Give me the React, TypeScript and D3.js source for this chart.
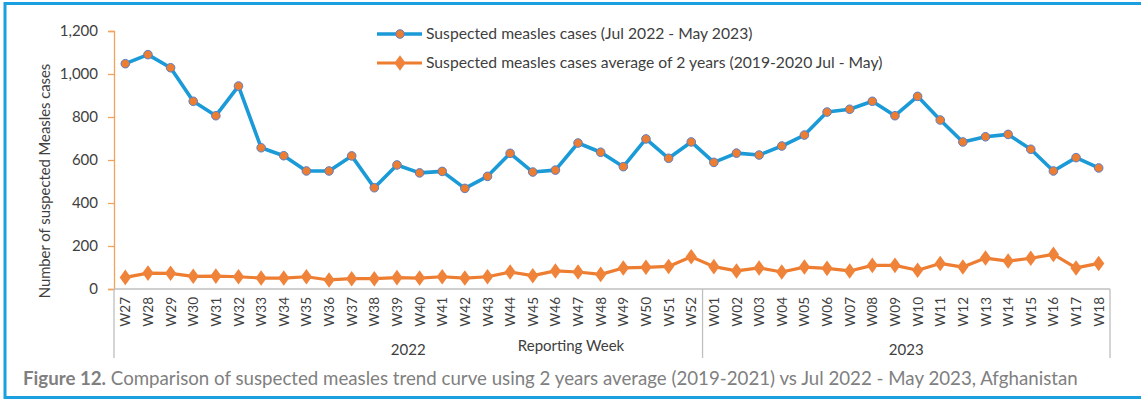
import React, { useEffect, useRef } from 'react';
import * as d3 from 'd3';

const weeks2022 = ['W27','W28','W29','W30','W31','W32','W33','W34','W35','W36','W37','W38','W39','W40','W41','W42','W43','W44','W45','W46','W47','W48','W49','W50','W51','W52'];
const weeks2023 = ['W01','W02','W03','W04','W05','W06','W07','W08','W09','W10','W11','W12','W13','W14','W15','W16','W17','W18'];

const cases2022_23 = [1048,1090,1029,873,806,944,657,620,549,549,619,471,577,540,547,468,524,631,544,553,679,636,569,698,608,684,
  589,632,623,665,716,823,836,873,806,896,786,684,708,719,650,549,611,563];
const avg2Years = [54,74,73,59,60,57,51,51,57,42,48,48,53,51,57,51,57,79,62,84,79,68,98,101,105,150,
  104,84,98,79,102,96,84,110,110,87,119,102,144,130,143,161,98,119];

const yTicks = [0, 200, 400, 600, 800, 1000, 1200];
const legendLabels = [
  'Suspected measles cases (Jul 2022 - May 2023)',
  'Suspected measles cases average of 2 years (2019-2020 Jul - May)',
];

const BLUE = '#1a9ad6';
const ORANGE = '#ed7d31';
const FONT = 'Lato, "Noto Sans", sans-serif';

export default function App() {
  const ref = useRef<SVGSVGElement>(null);

  useEffect(() => {
    const svg = d3.select(ref.current);
    svg.selectAll('*').remove();

    const W = 1141, H = 401;
    const margin = { left: 114, right: 31, top: 31, bottom: 112 };
    const weeks = weeks2022.concat(weeks2023);

    // outer frame (left, top, bottom)
    svg.append('path')
      .attr('d', `M${W},3.5 H5 V397.5 H${W}`)
      .attr('fill', 'none')
      .attr('stroke', '#1a9fe0')
      .attr('stroke-width', 3);

    const x = d3.scaleBand().domain(weeks).range([margin.left, W - margin.right]);
    const y = d3.scaleLinear().domain([0, 1200]).range([H - margin.bottom, margin.top]);
    const cx = (w: string) => (x(w) as number) + x.bandwidth() / 2;
    const y0 = y(0);

    // y axis
    const yAxis = svg.append('g')
      .attr('transform', `translate(${margin.left},0)`)
      .call(d3.axisLeft(y).tickValues(yTicks).tickSize(6).tickPadding(10).tickFormat(d3.format(',')));
    yAxis.select('.domain').attr('stroke', '#f4a25b').attr('stroke-width', 1.3);
    yAxis.selectAll('.tick line').attr('stroke', '#f4a25b').attr('stroke-width', 1.3);
    yAxis.selectAll('.tick text')
      .attr('font-family', FONT).attr('font-size', 15).attr('fill', '#404040');

    // x axis line and group lines
    svg.append('line')
      .attr('x1', margin.left).attr('x2', W - margin.right)
      .attr('y1', y0).attr('y2', y0)
      .attr('stroke', '#bfbfbf').attr('stroke-width', 1.3);
    const groupEdges = [weeks2022[0], weeks2023[0]].map(w => x(w) as number).concat([W - margin.right]);
    groupEdges.forEach(gx => {
      svg.append('line')
        .attr('x1', gx).attr('x2', gx)
        .attr('y1', y0).attr('y2', 358)
        .attr('stroke', '#bfbfbf').attr('stroke-width', 1.3);
    });

    svg.append('g').selectAll('text')
      .data(weeks)
      .enter()
      .append('text')
      .attr('transform', d => `translate(${cx(d) + 5},297) rotate(-90)`)
      .attr('text-anchor', 'end')
      .attr('font-family', FONT).attr('font-size', 13.5).attr('fill', '#404040')
      .text(d => d);

    const years = [
      { label: '2022', list: weeks2022 },
      { label: '2023', list: weeks2023 },
    ];
    years.forEach(g => {
      const mid = (cx(g.list[0]) + cx(g.list[g.list.length - 1])) / 2;
      svg.append('text')
        .attr('x', mid).attr('y', 355)
        .attr('text-anchor', 'middle')
        .attr('font-family', FONT).attr('font-size', 15).attr('fill', '#404040')
        .text(g.label);
    });

    svg.append('text')
      .attr('x', 571).attr('y', 351)
      .attr('text-anchor', 'middle')
      .attr('font-family', FONT).attr('font-size', 15).attr('fill', '#404040')
      .text('Reporting Week');

    svg.append('text')
      .attr('transform', `translate(50,181) rotate(-90)`)
      .attr('text-anchor', 'middle')
      .attr('font-family', FONT).attr('font-size', 14.8).attr('fill', '#404040')
      .text('Number of suspected Measles cases');

    // lines
    const line = d3.line<number>()
      .x((d, i) => cx(weeks[i]))
      .y(d => y(d));

    svg.append('path')
      .datum(avg2Years)
      .attr('fill', 'none')
      .attr('stroke', ORANGE)
      .attr('stroke-width', 3.2)
      .attr('stroke-linejoin', 'round')
      .attr('d', line);

    const diamond = d3.symbol().type(d3.symbolDiamond).size(70);
    svg.append('g').selectAll('path')
      .data(avg2Years)
      .enter()
      .append('path')
      .attr('transform', (d, i) => `translate(${cx(weeks[i])},${y(d)}) scale(1.25,1)`)
      .attr('d', diamond)
      .attr('fill', '#f0833a');

    svg.append('path')
      .datum(cases2022_23)
      .attr('fill', 'none')
      .attr('stroke', BLUE)
      .attr('stroke-width', 3.6)
      .attr('stroke-linejoin', 'round')
      .attr('d', line);

    svg.append('g').selectAll('circle')
      .data(cases2022_23)
      .enter()
      .append('circle')
      .attr('cx', (d, i) => cx(weeks[i]))
      .attr('cy', d => y(d))
      .attr('r', 4.3)
      .attr('fill', ORANGE)
      .attr('stroke', '#5b7fc7')
      .attr('stroke-width', 1);

    // legend
    legendLabels.forEach((label, i) => {
      const ly = 34 + i * 29;
      const g = svg.append('g');
      g.append('line')
        .attr('x1', 377).attr('x2', 422).attr('y1', ly).attr('y2', ly)
        .attr('stroke', i === 0 ? BLUE : ORANGE)
        .attr('stroke-width', i === 0 ? 3.6 : 3.2);
      if (i === 0) {
        g.append('circle').attr('cx', 400).attr('cy', ly).attr('r', 4.3)
          .attr('fill', ORANGE).attr('stroke', '#5b7fc7').attr('stroke-width', 1);
      } else {
        g.append('path').attr('transform', `translate(400,${ly}) scale(1.25,1)`)
          .attr('d', diamond).attr('fill', '#f0833a');
      }
      g.append('text')
        .attr('x', 426).attr('y', ly + 5)
        .attr('font-family', FONT).attr('font-size', 15.7).attr('fill', '#404040')
        .text(label);
    });

    // caption
    const cap = svg.append('text')
      .attr('x', 23).attr('y', 385)
      .attr('font-family', FONT).attr('font-size', 18.7).attr('fill', '#808080');
    cap.append('tspan').attr('font-weight', 'bold').text('Figure 12.');
    cap.append('tspan')
      .text(' Comparison of suspected measles trend curve using 2 years average (2019-2021) vs Jul 2022 - May 2023, Afghanistan');
  }, []);

  return (
    <svg ref={ref} width={1141} height={401}
      style={{ position: 'absolute', left: 0, top: 0, background: '#fff' }} />
  );
}
